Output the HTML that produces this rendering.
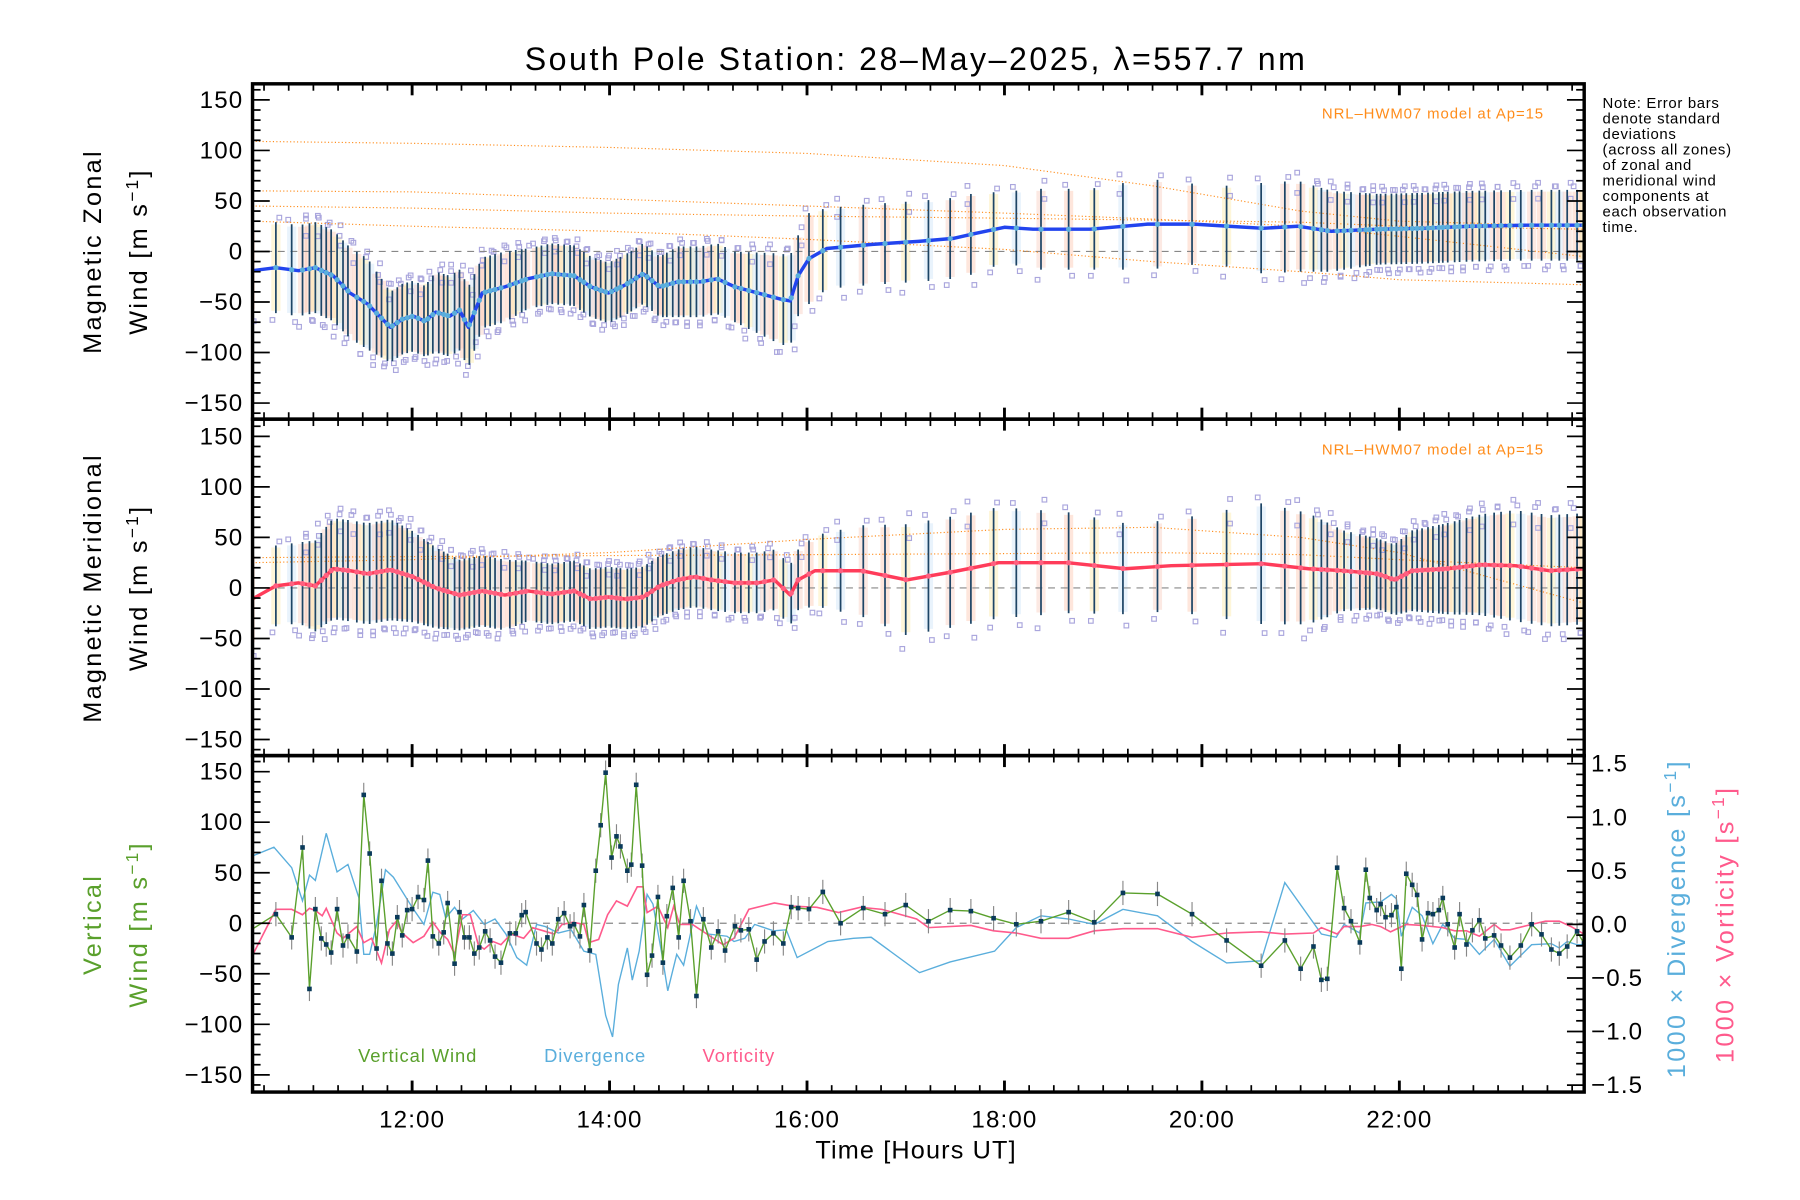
<!DOCTYPE html>
<html><head><meta charset="utf-8"><style>
html,body{margin:0;padding:0;background:#fff;}
svg{display:block;font-family:"Liberation Sans",sans-serif;}
</style></head><body>
<svg id="chart" width="1800" height="1200" viewBox="0 0 1568 1045" preserveAspectRatio="none" xmlns="http://www.w3.org/2000/svg">
<rect x="0" y="0" width="1568" height="1045" fill="#fff"/>
<text x="798" y="61" font-size="28" letter-spacing="2.2" text-anchor="middle">South Pole Station: 28–May–2025, λ=557.7 nm</text>
<g id="layer"></g>
<g id="frames" fill="none" stroke="#000" stroke-width="3">
<rect x="220" y="73" width="1160" height="292"/>
<rect x="220" y="365" width="1160" height="293"/>
<rect x="220" y="658" width="1160" height="293"/>
</g>
<g id="ticks"></g>
<g font-size="13" fill="#ff8c1a" letter-spacing="0.8">
<text x="1345" y="103" text-anchor="end">NRL–HWM07 model at Ap=15</text>
<text x="1345" y="396" text-anchor="end">NRL–HWM07 model at Ap=15</text>
</g>
<g font-size="13" fill="#000" letter-spacing="0.6">
<text x="1396" y="94">Note: Error bars</text><text x="1396" y="107.5">denote standard</text>
<text x="1396" y="121">deviations</text><text x="1396" y="134.5">(across all zones)</text>
<text x="1396" y="148">of zonal and</text><text x="1396" y="161.5">meridional wind</text>
<text x="1396" y="175">components at</text><text x="1396" y="188.5">each observation</text>
<text x="1396" y="202">time.</text></g>
<g font-size="22" letter-spacing="2">
<text transform="translate(88,219) rotate(-90)" text-anchor="middle">Magnetic Zonal</text>
<text transform="translate(128,219) rotate(-90)" text-anchor="middle">Wind [m s<tspan dy="-8" font-size="15">−1</tspan><tspan dy="8">]</tspan></text>
<text transform="translate(88,512) rotate(-90)" text-anchor="middle">Magnetic Meridional</text>
<text transform="translate(128,512) rotate(-90)" text-anchor="middle">Wind [m s<tspan dy="-8" font-size="15">−1</tspan><tspan dy="8">]</tspan></text>
<text transform="translate(88,805) rotate(-90)" text-anchor="middle" fill="#5aa02c">Vertical</text>
<text transform="translate(128,805) rotate(-90)" text-anchor="middle" fill="#5aa02c">Wind [m s<tspan dy="-8" font-size="15">−1</tspan><tspan dy="8">]</tspan></text>
<text transform="translate(1468,800) rotate(-90)" text-anchor="middle" fill="#5aaedc">1000 × Divergence [s<tspan dy="-8" font-size="15">−1</tspan><tspan dy="8">]</tspan></text>
<text transform="translate(1510,805) rotate(-90)" text-anchor="middle" fill="#ff5a8c">1000 × Vorticity [s<tspan dy="-8" font-size="15">−1</tspan><tspan dy="8">]</tspan></text>
<text x="798" y="1009" text-anchor="middle" letter-spacing="1">Time [Hours UT]</text>
</g>
<g font-size="16" letter-spacing="0.8">
<text x="312" y="925" fill="#5aa02c">Vertical Wind</text>
<text x="474" y="925" fill="#5aaedc">Divergence</text>
<text x="612" y="925" fill="#ff5a8c">Vorticity</text>
</g>
</svg>
<script>
const zonalHours=[10.38,10.62,10.85,11.02,11.2,11.37,11.55,11.78,11.9,12.01,12.13,12.24,12.38,12.48,12.57,12.71,12.94,13.17,13.41,13.64,13.81,13.99,14.16,14.34,14.51,14.69,14.92,15.09,15.27,15.5,15.73,15.83,15.91,16.02,16.2,16.66,17.13,17.48,17.71,18.0,18.29,18.87,19.45,19.92,20.27,20.62,20.97,21.31,21.78,22.24,22.71,23.29,23.87];
const zonalMean=[-19,-16,-19,-16,-24,-41,-52,-75,-67,-64,-69,-60,-64,-58,-75,-41,-35,-27,-22,-24,-35,-41,-33,-22,-35,-30,-30,-27,-35,-41,-47,-49,-24,-7,3,7,10,13,18,24,22,22,27,27,25,23,25,20,22,23,25,26,26];
const zonalStd=[40,45,45,45,45,45,45,35,35,35,35,40,40,40,40,35,35,30,30,30,30,30,30,30,30,35,35,35,35,40,45,45,40,45,40,40,40,40,40,35,40,40,45,40,40,45,45,40,35,35,35,35,35];
const merHours=[10.38,10.62,10.85,11.02,11.2,11.37,11.55,11.78,12.01,12.24,12.48,12.71,12.94,13.17,13.41,13.64,13.81,13.99,14.16,14.34,14.51,14.69,14.86,15.03,15.27,15.5,15.67,15.83,15.91,16.08,16.55,17.01,17.48,17.94,18.64,19.22,19.69,20.62,21.08,21.43,21.78,21.95,22.13,22.48,22.83,23.17,23.52,23.87];
const merMean=[-11,2,5,2,19,17,14,18,11,0,-7,-3,-7,-3,-6,-3,-11,-9,-11,-9,2,8,11,8,5,5,8,-7,8,17,17,8,16,25,25,19,22,24,19,17,14,8,17,19,23,22,17,19];
const merStd=[45,40,40,45,50,50,50,50,45,40,35,35,35,30,30,30,30,30,30,30,30,30,30,30,30,30,30,30,30,35,45,55,55,55,50,45,45,60,55,40,35,35,40,45,50,55,55,55];
const modelHours=[10.38,12,14,16,18,19.5,21,22,23.87];
const zonalModelA=[109,107,103,97,85,65,40,30,25];
const zonalModelB=[60,59,52,45,38,32,25,15,-5];
const zonalModelC=[45,43,38,35,33,31,29,25,22];
const zonalModelD=[30,25,20,12,2,-10,-20,-28,-33];
const merModelA=[25,28,35,48,58,60,50,35,-15];
const merModelB=[30,31,32,33,34,35,33,28,20];
const vwHours=[10.36,10.62,10.78,10.89,10.96,11.02,11.08,11.13,11.18,11.24,11.3,11.35,11.44,11.51,11.57,11.64,11.69,11.75,11.8,11.85,11.9,11.95,12.0,12.06,12.12,12.16,12.21,12.27,12.32,12.36,12.43,12.48,12.53,12.58,12.63,12.68,12.74,12.79,12.84,12.9,12.99,13.05,13.11,13.15,13.26,13.31,13.37,13.42,13.48,13.54,13.6,13.64,13.7,13.74,13.8,13.86,13.91,13.96,14.02,14.07,14.11,14.18,14.22,14.27,14.33,14.38,14.43,14.49,14.54,14.58,14.64,14.7,14.75,14.82,14.88,14.95,15.03,15.1,15.17,15.27,15.33,15.41,15.49,15.57,15.66,15.76,15.84,15.91,16.02,16.16,16.34,16.57,16.79,17.0,17.23,17.45,17.66,17.89,18.12,18.37,18.65,18.91,19.2,19.55,19.9,20.25,20.6,20.84,21.0,21.13,21.21,21.27,21.37,21.44,21.51,21.6,21.66,21.7,21.77,21.81,21.86,21.92,21.97,22.02,22.07,22.13,22.18,22.23,22.29,22.34,22.4,22.44,22.49,22.56,22.61,22.68,22.74,22.81,22.87,22.96,23.03,23.12,23.23,23.34,23.44,23.54,23.62,23.7,23.8,23.87];
const vwValues=[-7,9,-14,75,-65,14,-15,-21,-29,14,-22,-13,-28,127,69,-25,42,-20,-30,6,-12,13,14,26,23,62,-13,-20,-9,20,-40,11,-14,-14,-30,-24,-8,-17,-33,-39,-10,-10,8,11,-20,-26,-14,-20,4,10,-3,-1,-13,18,-27,52,97,149,65,86,76,52,58,137,57,-51,-32,26,-39,7,35,-14,42,2,-72,4,-24,-8,-27,-3,-7,-6,-36,-18,-10,-20,16,15,14,31,0,15,9,18,2,13,12,5,-1,2,11,1,30,29,9,-17,-42,-17,-45,-23,-56,-55,55,15,2,-19,53,25,13,19,6,8,16,-45,49,38,28,-16,10,9,13,25,-1,-24,9,-21,-7,3,-15,-12,-22,-34,-22,-1,-11,-26,-30,-23,-8,-20];
const divHours=[10.36,10.6,10.78,10.89,10.96,11.02,11.13,11.24,11.35,11.46,11.51,11.57,11.64,11.73,11.81,12.0,12.12,12.21,12.28,12.34,12.43,12.51,12.62,12.73,12.84,12.95,13.06,13.16,13.26,13.35,13.48,13.61,13.74,13.86,13.96,14.03,14.09,14.18,14.23,14.3,14.38,14.44,14.53,14.59,14.68,14.75,14.88,15.0,15.19,15.26,15.37,15.47,15.66,15.79,15.9,16.21,16.47,16.65,17.14,17.45,17.9,18.12,18.37,18.65,18.91,19.2,19.55,19.9,20.25,20.6,20.84,21.21,21.36,21.44,21.6,21.66,21.81,21.92,21.97,22.02,22.13,22.23,22.34,22.44,22.56,22.68,22.81,22.96,23.12,23.34,23.54,23.62,23.7,23.8,23.87];
const divValues=[0.63,0.72,0.53,0.22,0.46,0.41,0.85,0.49,0.56,0.25,-0.28,-0.28,0,0.51,0.44,0.16,0,0.3,0.28,0.06,0.16,0.05,0.13,0,0.05,-0.09,-0.31,-0.38,0,-0.02,-0.08,-0.05,-0.25,-0.28,-0.85,-1.05,-0.56,-0.22,-0.52,-0.25,0.28,0.19,-0.28,-0.62,-0.28,-0.38,0.17,-0.09,-0.11,-0.16,-0.13,0,-0.06,-0.05,-0.31,-0.16,-0.13,-0.12,-0.45,-0.35,-0.25,-0.03,0.08,0.05,0,0.14,0.08,-0.16,-0.36,-0.34,0.39,-0.09,-0.12,0,-0.08,0.2,0.21,0.28,0.24,-0.11,0.16,0.08,-0.18,0,-0.13,-0.14,-0.28,-0.14,-0.39,-0.19,-0.18,-0.22,-0.16,-0.19,-0.19];
const vorHours=[10.36,10.62,10.78,10.89,10.96,11.02,11.09,11.13,11.24,11.3,11.44,11.51,11.59,11.69,11.77,11.84,11.9,12.01,12.12,12.21,12.29,12.36,12.43,12.51,12.59,12.67,12.73,12.82,12.9,13.0,13.13,13.22,13.33,13.44,13.52,13.63,13.74,13.79,13.89,13.98,14.07,14.18,14.28,14.34,14.38,14.49,14.59,14.65,14.71,14.84,14.97,15.15,15.26,15.41,15.67,15.86,16.1,16.32,16.54,16.76,17.11,17.23,17.66,17.89,18.12,18.37,18.65,18.91,19.2,19.55,19.9,20.25,20.6,20.84,21.13,21.21,21.37,21.44,21.6,21.72,21.81,21.91,22.07,22.23,22.44,22.56,22.68,22.81,22.96,23.03,23.12,23.34,23.48,23.62,23.74,23.87];
const vorValues=[-0.33,0.14,0.14,0.09,0.15,0.13,0.08,0.15,-0.08,-0.13,-0.02,-0.17,-0.13,-0.36,-0.05,0.03,-0.08,-0.17,-0.11,0.02,-0.08,-0.14,-0.28,0.09,0.09,-0.19,-0.23,-0.16,-0.19,-0.09,-0.13,-0.03,-0.06,-0.09,0,0.02,0,-0.17,-0.14,0.09,0.22,0.17,0.35,0.35,0.11,0.17,-0.03,0.17,0,0,-0.08,-0.19,-0.13,0.14,0.2,0.17,0.16,0.11,0.16,0.14,0.05,-0.03,-0.01,-0.06,-0.08,-0.13,-0.13,-0.06,-0.04,-0.04,-0.12,-0.08,-0.07,-0.09,-0.08,-0.03,-0.09,-0.02,-0.02,0,-0.02,-0.07,0,-0.01,-0.03,-0.06,-0.06,-0.11,0,-0.05,-0.05,0,0.03,0.03,-0.02,-0.09];
const hourTicks=[12,14,16,18,20,22];
const hourTickLabels=["12:00","14:00","16:00","18:00","20:00","22:00"];
const windTicks=[-150,-100,-50,0,50,100,150];
const windTickLabels=["−150","−100","−50","0","50","100","150"];
const rightTicks=[-1.5,-1.0,-0.5,0.0,0.5,1.0,1.5];
const rightTickLabels=["−1.5","−1.0","−0.5","0.0","0.5","1.0","1.5"];

const NS="http://www.w3.org/2000/svg";
const X0=220,X1=1380;
function xs(h){return 359+(h-12)*86;}
function ys(v,zero){return zero-v*0.88;}
function yr(d){return 805-d*93.3;}
const Z1=219,Z2=512,Z3=804;
const layer=document.getElementById('layer');
const tk=document.getElementById('ticks');
function mk(tag,attrs,parent){const e=document.createElementNS(NS,tag);for(const k in attrs)e.setAttribute(k,attrs[k]);(parent||layer).appendChild(e);return e;}
function clip(id,y0,y1){const d=mk('clipPath',{id:id});mk('rect',{x:X0,y:y0,width:X1-X0,height:y1-y0},d);}
clip('c1',73,365);clip('c2',365,658);clip('c3',658,951);
function path(hs,vs,f){return hs.map((h,i)=>(i?'L':'M')+xs(h).toFixed(1)+' '+f(vs[i]).toFixed(1)).join(' ');}
function interp(hs,vs,h){if(h<=hs[0])return vs[0];for(let i=1;i<hs.length;i++){if(h<=hs[i]){const t=(h-hs[i-1])/(hs[i]-hs[i-1]);return vs[i-1]+t*(vs[i]-vs[i-1]);}}return vs[vs.length-1];}

function windPanel(hours,mean,std,zero,clipId,lineColor,pointColor,models,name){
  const g=mk('g',{'clip-path':'url(#'+clipId+')'});
  
  
  const bandCols=['#fcc0a8','#fde8a0','#c8e0f8','#f8c8b8'];
  // observation times (shared with vertical wind) carry the zone bars
  const obsM=vwHours.map(h=>interp(hours,mean,h));
  const obsS=vwHours.map(h=>interp(hours,std,h));
  vwHours.forEach((h,i)=>{
    const x=xs(h);
    const r=mk('rect',{x:x-4,y:ys(obsM[i]+obsS[i]*0.95,zero),width:8,height:obsS[i]*1.9*0.88,fill:bandCols[i%4],opacity:0.4},g);
    
    
  });
  vwHours.forEach((h,i)=>{
    const x=xs(h);
    const ks=(i%3===0)?[1.2,-1.25,0.75]:[1.1,-1.15];
    ks.forEach((k,j)=>{
      const s=mk('rect',{x:x-2+((i+j)%2?3:-3),y:ys(obsM[i]+obsS[i]*k,zero)-2,width:4,height:4,fill:'none',stroke:'#aaa6dd','stroke-width':1},g);
      
      
    });
  });
  mk('line',{x1:X0,x2:X1,y1:zero,y2:zero,stroke:'#888','stroke-dasharray':'6,5','stroke-width':1},g);
  models.forEach(m=>{
    const p=mk('path',{d:path(modelHours,m,v=>ys(v,zero)),fill:'none',stroke:'#ff8c1a','stroke-width':1,'stroke-dasharray':'1,2'},g);
    
    
  });
  vwHours.forEach((h,i)=>{
    const b=mk('line',{x1:xs(h),x2:xs(h),y1:ys(obsM[i]-obsS[i],zero),y2:ys(obsM[i]+obsS[i],zero),stroke:'#1e4566','stroke-width':1.5},g);
    
    
  });
  const ln=mk('path',{d:path(hours,mean,v=>ys(v,zero)),fill:'none',stroke:lineColor,'stroke-width':3,'stroke-linejoin':'round'},g);
  
  
  vwHours.forEach((h,i)=>{
    const c=mk('circle',{cx:xs(h),cy:ys(obsM[i],zero),r:2.3,fill:pointColor},g);
    
    
  });
}
windPanel(zonalHours,zonalMean,zonalStd,Z1,'c1','#2244ee','#5aaedc',[zonalModelA,zonalModelB,zonalModelC,zonalModelD],'zonal');
windPanel(merHours,merMean,merStd,Z2,'c2','#ff3c5a','#ff6080',[merModelA,merModelB],'meridional');

const g3=mk('g',{'clip-path':'url(#c3)'});


mk('line',{x1:X0,x2:X1,y1:Z3,y2:Z3,stroke:'#888','stroke-dasharray':'6,5','stroke-width':1},g3);
const dv=mk('path',{d:path(divHours,divValues,yr),fill:'none',stroke:'#5aaedc','stroke-width':1.2},g3);


const vo=mk('path',{d:path(vorHours,vorValues,yr),fill:'none',stroke:'#ff5a8c','stroke-width':1.4},g3);


vwHours.forEach((h,i)=>{
  const e=mk('line',{x1:xs(h),x2:xs(h),y1:ys(vwValues[i]-12,Z3),y2:ys(vwValues[i]+12,Z3),stroke:'#888','stroke-width':1},g3);
  
  
});
const vw=mk('path',{d:path(vwHours,vwValues,v=>ys(v,Z3)),fill:'none',stroke:'#5aa02c','stroke-width':1.2},g3);


vwHours.forEach((h,i)=>{
  const p=mk('rect',{x:xs(h)-2,y:ys(vwValues[i],Z3)-2,width:4,height:4,fill:'#0a3a5a'},g3);
  
  
});

function tl(x1,y1,x2,y2,w){mk('line',{x1:x1,y1:y1,x2:x2,y2:y2,stroke:'#000','stroke-width':w||1.5},tk);}
[[73,365],[365,658],[658,951]].forEach(([top,bot])=>{
  for(let h=10.5;h<=23.87;h+=0.25){const x=xs(h);const maj=Math.abs(h-Math.round(h/2)*2)<0.01;
    const L=maj?10:6;tl(x,top,x,top+L,maj?2.5:1.5);tl(x,bot,x,bot-L,maj?2.5:1.5);}
});
[[Z1,true],[Z2,true],[Z3,false]].forEach(([z,right])=>{
  for(let v=-160;v<=160;v+=10){const y=ys(v,z);const maj=v%50===0;const L=maj?15:7;
    tl(X0,y,X0+L,y);if(right)tl(X1,y,X1-L,y);}
});
for(let d=-1.5;d<=1.51;d+=0.1){const y=yr(d);const maj=Math.abs(d*2-Math.round(d*2))<0.01;tl(X1,y,X1-(maj?15:7),y);}
const lab=mk('g',{'font-size':21,fill:'#000','letter-spacing':1});


[Z1,Z2,Z3].forEach(z=>{windTicks.forEach((v,i)=>{const t=mk('text',{x:212,y:ys(v,z)+7,'text-anchor':'end'},lab);t.textContent=windTickLabels[i];});});
rightTicks.forEach((d,i)=>{const t=mk('text',{x:1386,y:yr(d)+7},lab);t.textContent=rightTickLabels[i];});
hourTicks.forEach((h,i)=>{const t=mk('text',{x:xs(h),y:982,'text-anchor':'middle'},lab);t.textContent=hourTickLabels[i];});
</script>
</body></html>
